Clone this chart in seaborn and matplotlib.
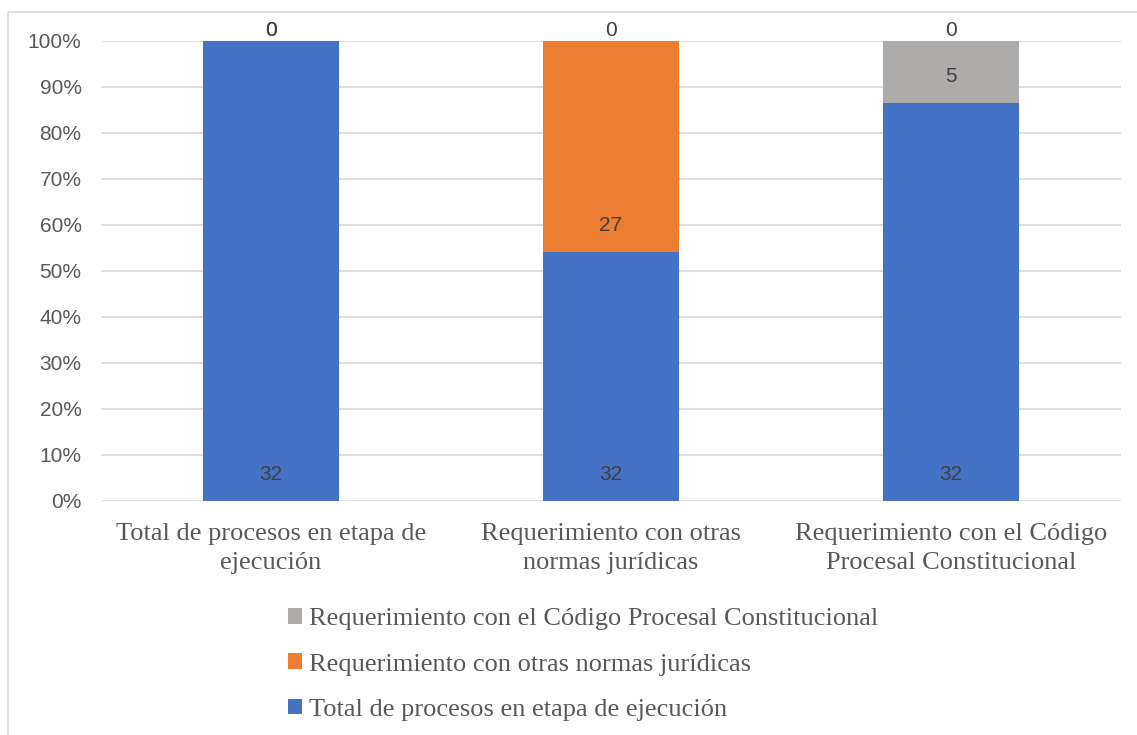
import numpy as np
import pandas as pd
import matplotlib
matplotlib.use("Agg")
import matplotlib.pyplot as plt
from matplotlib.patches import Rectangle, Patch
import seaborn as sns

# data
categories = ["Total de procesos en etapa de\nejecución",
              "Requerimiento con otras\nnormas jurídicas",
              "Requerimiento con el Código\nProcesal Constitucional"]
series_names = ["Total de procesos en etapa de ejecución",
                "Requerimiento con otras normas jurídicas",
                "Requerimiento con el Código Procesal Constitucional"]
total_proc = [32, 32, 32]
otras_normas = [0, 27, 0]
codigo_pc = [0, 0, 5]
colors = ["#4472C4", "#ED7D31", "#AEABAB"]

counts = np.array([total_proc, otras_normas, codigo_pc], dtype=float)
pct = counts / counts.sum(axis=0) * 100
cum = np.cumsum(pct, axis=0)

sns.set_style("white")
plt.rcParams["font.family"] = ["Liberation Sans", "DejaVu Sans"]

fig = plt.figure(figsize=(11.37, 7.35), dpi=100)
ax = fig.add_axes([101 / 1137, 1 - 501 / 735, 1020 / 1137, 460 / 735])

# chart border
fig.patches.append(Rectangle((8 / 1137, -0.1), 1.2, 1 - 12 / 735 + 0.1,
                             transform=fig.transFigure, fill=False,
                             edgecolor="#D9D9D9", linewidth=1.2))

# stacked bars drawn top layer first
for i in [2, 1, 0]:
    df = pd.DataFrame({"cat": categories, "val": cum[i]})
    sns.barplot(data=df, x="cat", y="val", color=colors[i], width=0.4,
                saturation=1, linewidth=0, ax=ax, zorder=2)

ax.set_xlim(-0.5, 2.5)
ax.set_ylim(0, 100)
ax.set_yticks(np.arange(0, 101, 10))
ax.set_yticklabels([f"{v}%" for v in range(0, 101, 10)], fontsize=15, color="#595959")
ax.set_xticks(range(3))
ax.set_xticklabels(categories, fontsize=19, color="#595959",
                   family=["Liberation Serif", "DejaVu Serif"], linespacing=1.4)
ax.tick_params(axis="both", length=0)
ax.tick_params(axis="y", pad=14)
ax.tick_params(axis="x", pad=16)
ax.set_xlabel("")
ax.set_ylabel("")
ax.yaxis.grid(True, color="#D9D9D9", linewidth=1.2, zorder=0)
ax.set_axisbelow(True)
for s in ax.spines.values():
    s.set_visible(False)

# data labels (inside base, zeros above the bar)
for i in range(3):
    base = cum[i] - pct[i]
    for j in range(3):
        if counts[i, j] == 0:
            ax.annotate("0", (j, 100), xytext=(0, 1), textcoords="offset points",
                        ha="center", va="bottom", fontsize=15, color="#404040")
        else:
            ax.annotate(f"{int(counts[i, j])}", (j, base[j]), xytext=(0, 19),
                        textcoords="offset points", ha="center", va="center",
                        fontsize=15, color="#404040")

handles = [Patch(facecolor=colors[i], edgecolor="none", label=series_names[i]) for i in [2, 1, 0]]
fig.legend(handles=handles, loc="center left", bbox_to_anchor=(0.232, 0.096),
           frameon=False, handlelength=0.55, handleheight=0.55, handletextpad=0.25,
           labelspacing=0.87,
           prop={"family": ["Liberation Serif", "DejaVu Serif"], "size": 19},
           labelcolor="#595959")

fig.savefig("out.png", dpi=100)
